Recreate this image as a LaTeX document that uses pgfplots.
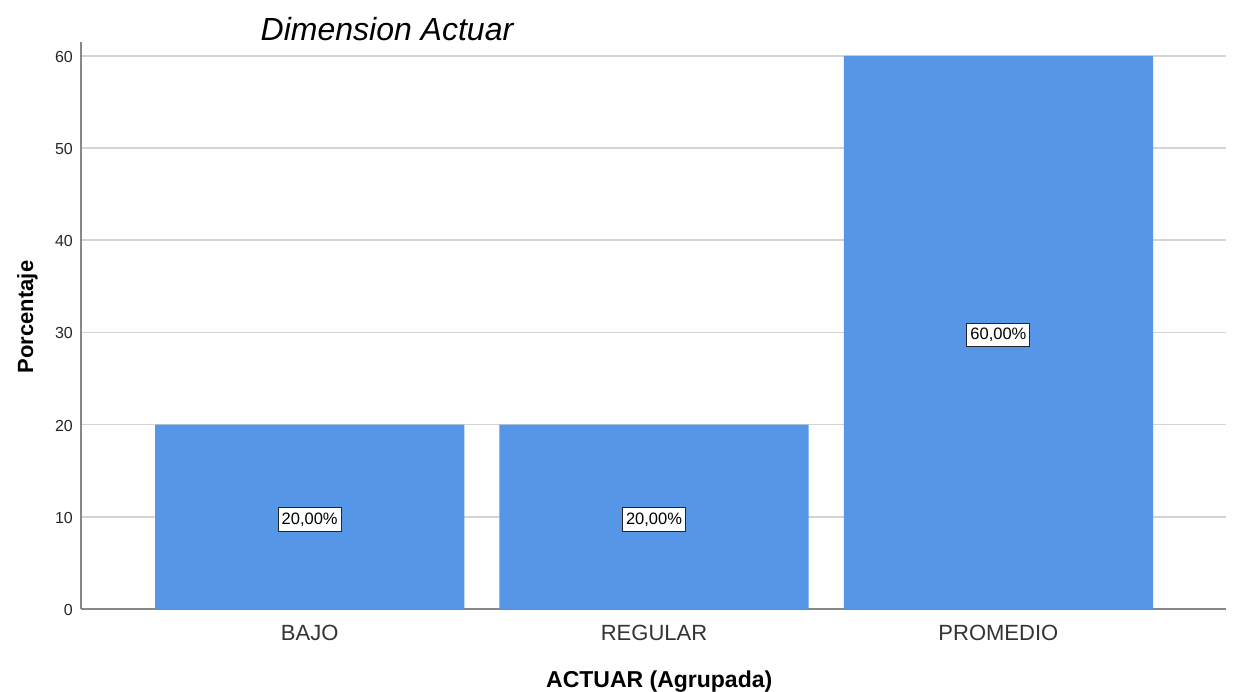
\documentclass[border=0pt]{standalone}
\usepackage{fontspec}
\setmainfont{Liberation Sans}
\usepackage{pgfplots}
\pgfplotsset{compat=1.18}

\definecolor{barblue}{RGB}{85,150,230}
\definecolor{gridgray}{RGB}{212,212,212}
\definecolor{axisgray}{RGB}{135,135,135}

\begin{document}
\begin{tikzpicture}
  \path[use as bounding box] (0pt,0pt) rectangle (1233pt,692pt);
  \begin{axis}[
    at={(81pt,83pt)}, anchor=south west,
    scale only axis, width=1145pt, height=567pt,
    xmin=-0.664, xmax=2.661, ymin=0, ymax=61.5,
    separate axis lines,
    axis x line*=bottom, axis y line*=left,
    axis line style={axisgray, line width=1.5pt},
    major tick length=0pt,
    xtick={0,1,2},
    xticklabels={BAJO,REGULAR,PROMEDIO},
    ytick={0,10,...,60},
    ymajorgrids,
    grid style={gridgray, line width=1.5pt},
    xticklabel style={font=\fontsize{22}{22}\selectfont, text=black!80, anchor=base, yshift=-32pt},
    yticklabel style={font=\fontsize{16}{16}\selectfont, text=black!85, anchor=east, inner sep=0pt, xshift=-8pt, yshift=-1pt},
    xlabel={ACTUAR (Agrupada)},
    xlabel style={font=\bfseries\fontsize{23}{23}\selectfont, at={(axis description cs:0.505,-0.1376)}, anchor=base},
    ylabel={Porcentaje},
    ylabel style={font=\bfseries\fontsize{22}{22}\selectfont, at={(axis description cs:-0.0419,0.515)}, anchor=base},
    ybar, bar width=0.898, bar shift=0pt,
    /pgf/number format/assume math mode=true,
  ]
    \addplot[
      fill=barblue, draw=none,
      visualization depends on={y \as \rawy},
      nodes near coords={\pgfmathprintnumber[fixed,fixed zerofill,precision=2,use comma]{\pgfplotspointmeta}\%},
      every node near coord/.append style={
        shift={(axis direction cs:0,-0.5*\rawy)}, yshift=-2.5pt,
        anchor=center, fill=white, draw=black!85, line width=1pt,
        inner xsep=3.5pt, inner ysep=5pt,
        font=\fontsize{16.5}{16.5}\selectfont, text=black,
      },
    ] coordinates {(0,20) (1,20) (2,60)};
  \end{axis}
  \node[font=\itshape\fontsize{32}{32}\selectfont, anchor=base] at (387pt,651pt) {Dimension Actuar};
\end{tikzpicture}
\end{document}
